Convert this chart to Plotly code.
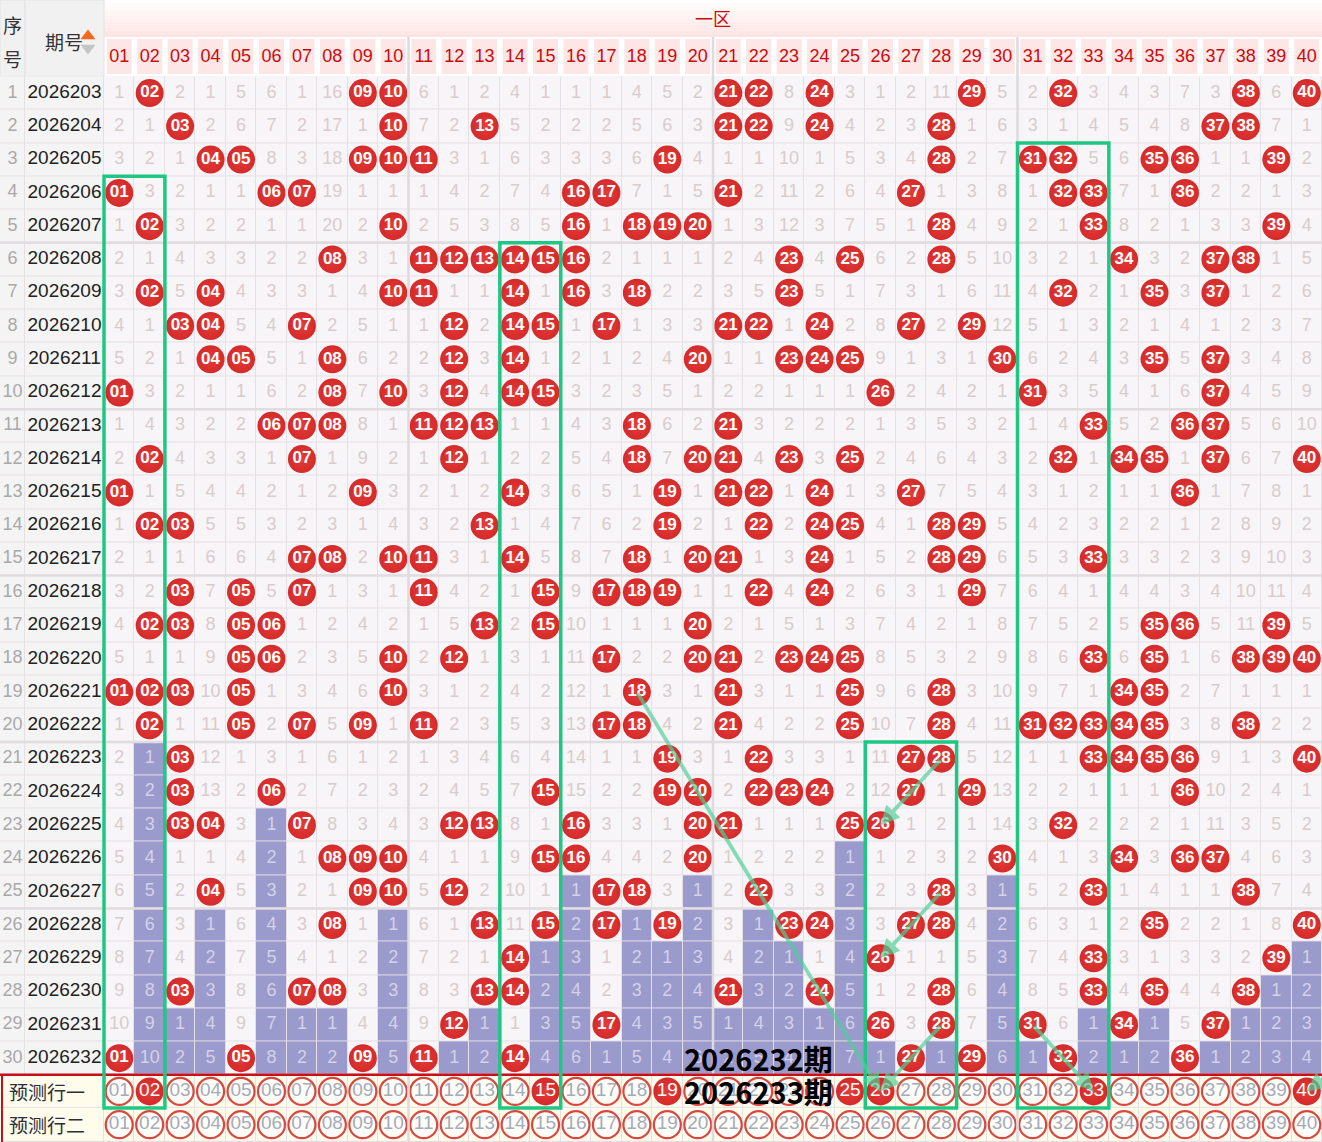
import plotly.graph_objects as go

# Draw data: one row per period, numbers drawn from 01-40 (一区).
periods = ["2026203", "2026204", "2026205", "2026206", "2026207", "2026208",
           "2026209", "2026210", "2026211", "2026212", "2026213", "2026214",
           "2026215", "2026216", "2026217", "2026218", "2026219", "2026220",
           "2026221", "2026222", "2026223", "2026224", "2026225", "2026226",
           "2026227", "2026228", "2026229", "2026230", "2026231", "2026232"]

draws = [
    [2, 9, 10, 21, 22, 24, 29, 32, 38, 40],
    [3, 10, 13, 21, 22, 24, 28, 37, 38],
    [4, 5, 9, 10, 11, 19, 28, 31, 32, 35, 36, 39],
    [1, 6, 7, 16, 17, 21, 27, 32, 33, 36],
    [2, 10, 16, 18, 19, 20, 28, 33, 39],
    [8, 11, 12, 13, 14, 15, 16, 23, 25, 28, 34, 37, 38],
    [2, 4, 10, 11, 14, 16, 18, 23, 32, 35, 37],
    [3, 4, 7, 12, 14, 15, 17, 21, 22, 24, 27, 29],
    [4, 5, 8, 12, 14, 20, 23, 24, 25, 30, 35, 37],
    [1, 8, 10, 12, 14, 15, 26, 31, 37],
    [6, 7, 8, 11, 12, 13, 18, 21, 33, 36, 37],
    [2, 7, 12, 18, 20, 21, 23, 25, 32, 34, 35, 37, 40],
    [1, 9, 14, 19, 21, 22, 24, 27, 36],
    [2, 3, 13, 19, 22, 24, 25, 28, 29],
    [7, 8, 10, 11, 14, 18, 20, 21, 24, 28, 29, 33],
    [3, 5, 7, 11, 15, 17, 18, 19, 22, 24, 29],
    [2, 3, 5, 6, 13, 15, 20, 35, 36, 39],
    [5, 6, 10, 12, 17, 20, 21, 23, 24, 25, 33, 35, 38, 39, 40],
    [1, 2, 3, 5, 10, 18, 21, 25, 28, 34, 35],
    [2, 5, 7, 9, 11, 17, 18, 21, 25, 28, 31, 32, 33, 34, 35, 38],
    [3, 19, 22, 27, 28, 33, 34, 35, 36, 40],
    [3, 6, 15, 19, 20, 22, 23, 24, 27, 29, 36],
    [3, 4, 7, 12, 13, 16, 20, 21, 25, 26, 32],
    [8, 9, 10, 15, 16, 20, 30, 34, 36, 37],
    [4, 9, 10, 12, 17, 18, 22, 28, 33, 38],
    [8, 13, 15, 17, 19, 23, 24, 27, 28, 35, 40],
    [14, 26, 33, 39],
    [3, 7, 8, 13, 14, 21, 24, 28, 33, 35, 38],
    [12, 17, 26, 28, 31, 34, 37],
    [1, 5, 9, 11, 14, 27, 29, 32, 36],
]

# Omission values shown in the first row (0 = drawn).
first_row_omission = [1, 0, 2, 1, 5, 6, 1, 16, 0, 0, 6, 1, 2, 4, 1, 1, 1, 4, 5, 2,
                      0, 0, 8, 0, 3, 1, 2, 11, 0, 5, 2, 0, 3, 4, 3, 7, 3, 0, 6, 0]

predict_one = [2, 15, 19, 25, 26, 33, 40]
predict_two = []
pred_labels = ["预测行一", "预测行二"]

# Green frames: (first column, last column, first row) down to 预测行一.
boxes = [(1, 2, 4), (14, 15, 6), (26, 28, 21), (31, 33, 3)]
# Green arrows: (from column, from row, to column, to row).
links = [(18, 19, 26, 31), (28, 21, 26, 23), (28, 25, 26, 27),
         (28, 29, 26, 31), (31, 29, 33, 31), (41, 30.3, 40, 31)]
stamps = [("2026232期", 30), ("2026233期", 31)]

N = 40
ROWS = len(periods)
numbers = list(range(1, N + 1))

# Build the omission table.
omit = []
for i, hits in enumerate(draws):
    if i == 0:
        omit.append(list(first_row_omission))
    else:
        omit.append([0 if n in hits else omit[-1][n - 1] + 1 for n in numbers])

last_hit = {n: max([i for i, h in enumerate(draws) if n in h], default=-1)
            for n in numbers}

# Page geometry (pixels -> axis units).
COL_W, ROW_H, GRID_X, GRID_Y = 30.45, 33.28, 104, 76.4


def px_x(p):
    return 0.5 + (p - GRID_X) / COL_W


def px_y(p):
    return 0.5 + (p - GRID_Y) / ROW_H


X0, X1 = px_x(0), px_x(1322)
Y0, Y1 = px_y(0), px_y(1142)
XS = px_x(25)

CELL = "#f7f5f7"
LINE = "#e4e0e4"
PURPLE = "#9a9acc"
RED = "#d42a2a"
CREAM = "#fffcec"
FONT = "Liberation Sans, Arial, sans-serif"
CJK = "Noto Sans CJK SC, sans-serif"

fig = go.Figure()

# Cell backgrounds.
zgrid = [[1 if i > last_hit[n] else 0 for n in numbers] for i in range(ROWS)]
fig.add_trace(go.Heatmap(
    x=numbers, y=list(range(1, ROWS + 1)), z=zgrid, zmin=0, zmax=1,
    colorscale=[[0, CELL], [1, PURPLE]], showscale=False, xgap=1, ygap=1,
    hoverinfo="skip"))
fig.add_trace(go.Heatmap(
    x=[X0, XS, 0.5], y=[r + 0.5 for r in range(ROWS + 1)],
    z=[[0, 0] for _ in range(ROWS)], zmin=0, zmax=1,
    colorscale=[[0, "#f5f4f5"], [1, "#f5f4f5"]], showscale=False,
    xgap=1, ygap=1, hoverinfo="skip"))
fig.add_trace(go.Heatmap(
    x=numbers, y=[ROWS + 1, ROWS + 2], z=[[0] * N, [0] * N], zmin=0, zmax=1,
    colorscale=[[0, CREAM], [1, CREAM]], showscale=False, xgap=1, ygap=1,
    hoverinfo="skip"))
fig.add_trace(go.Heatmap(
    x=[X0, 0.5], y=[ROWS + 0.5, ROWS + 1.5, ROWS + 2.5], z=[[0], [0]],
    zmin=0, zmax=1, colorscale=[[0, CREAM], [1, CREAM]], showscale=False,
    xgap=1, ygap=1, hoverinfo="skip"))

# Omission numbers (plain and purple cells).
for purple, color in ((False, "#d9cccc"), (True, "#d4d2e6")):
    xs, ys, ts = [], [], []
    for i in range(ROWS):
        for n in numbers:
            if omit[i][n - 1] > 0 and (i > last_hit[n]) == purple:
                xs.append(n)
                ys.append(i + 1)
                ts.append(str(omit[i][n - 1]))
    fig.add_trace(go.Scatter(
        x=xs, y=ys, text=ts, mode="text", hoverinfo="skip",
        textfont=dict(family=FONT, size=18, color=color)))

# Drawn balls.
bx = [n for i, h in enumerate(draws) for n in h]
by = [i + 1 for i, h in enumerate(draws) for n in h]
fig.add_trace(go.Scatter(
    x=bx, y=by, text=[f"{n:02d}" for n in bx], mode="markers+text",
    hoverinfo="skip",
    marker=dict(size=28, color=RED, line=dict(width=0),
                gradient=dict(type="radial", color="#e43c38")),
    textfont=dict(family=FONT, size=17, color="white", weight="bold")))

# Prediction rows.
for r, picks in enumerate([predict_one, predict_two]):
    yrow = ROWS + 1 + r
    open_n = [n for n in numbers if n not in picks]
    fig.add_trace(go.Scatter(
        x=open_n, y=[yrow] * len(open_n), text=[f"{n:02d}" for n in open_n],
        mode="markers+text", hoverinfo="skip",
        marker=dict(size=27, color="#fffdf8",
                    line=dict(width=2.2, color="#d9483f")),
        textfont=dict(family=FONT, size=19, color="#a4abba")))
    if picks:
        fig.add_trace(go.Scatter(
            x=picks, y=[yrow] * len(picks), text=[f"{n:02d}" for n in picks],
            mode="markers+text", hoverinfo="skip",
            marker=dict(size=28, color=RED, line=dict(width=0),
                        gradient=dict(type="radial", color="#e43c38")),
            textfont=dict(family=FONT, size=19, color="white")))

# Left columns: serial and period numbers.
fig.add_trace(go.Scatter(
    x=[(X0 + XS) / 2] * ROWS, y=list(range(1, ROWS + 1)),
    text=[str(i + 1) for i in range(ROWS)], mode="text", hoverinfo="skip",
    textfont=dict(family=FONT, size=18, color="#a9a9a9")))
fig.add_trace(go.Scatter(
    x=[(XS + 0.5) / 2] * ROWS, y=list(range(1, ROWS + 1)), text=periods,
    mode="text", hoverinfo="skip",
    textfont=dict(family=FONT, size=19, color="#222222")))

# Column header numbers.
fig.add_trace(go.Scatter(
    x=numbers, y=[px_y(57)] * N, text=[f"{n:02d}" for n in numbers],
    mode="text", hoverinfo="skip",
    textfont=dict(family=FONT, size=18, color="#cc0a0a")))

shapes = []
# Header backgrounds.
shapes.append(dict(type="rect", x0=0.5, x1=X1, y0=Y0, y1=0.5,
                   fillcolor="white", line_width=0, layer="below"))
steps = 12
for k in range(steps):
    t = k / (steps - 1)
    b = int(255 - t * (255 - 0xe4))
    shapes.append(dict(
        type="rect", x0=0.5, x1=X1,
        y0=Y0 + (px_y(37) - Y0) * k / steps,
        y1=Y0 + (px_y(37) - Y0) * (k + 1) / steps,
        fillcolor=f"rgb(255,{b},{b})", line_width=0, layer="below"))
for n in numbers:
    shapes.append(dict(type="rect", x0=n - 0.41, x1=n + 0.41,
                       y0=px_y(39), y1=px_y(74), fillcolor="#fce6e6",
                       line_width=0, layer="below"))
for xa, xb in ((X0, XS), (XS, 0.5)):
    shapes.append(dict(type="rect", x0=xa, x1=xb, y0=Y0, y1=0.5,
                       fillcolor="#f1f1f1", line=dict(color="#e2e2e2", width=1),
                       layer="below"))

# Thicker separators every 10 columns and 5 rows.
for xv in (10.5, 20.5, 30.5):
    shapes.append(dict(type="line", x0=xv, x1=xv, y0=px_y(37), y1=Y1,
                       line=dict(color="#dedade", width=2.5), layer="above"))
for yv in (5.5, 10.5, 15.5, 20.5, 25.5):
    shapes.append(dict(type="line", x0=X0, x1=X1, y0=yv, y1=yv,
                       line=dict(color="#e0dce0", width=2.5), layer="above"))

# Red rule above prediction rows.
shapes.append(dict(type="line", x0=X0, x1=X1, y0=ROWS + 0.5, y1=ROWS + 0.5,
                   line=dict(color="#c8101a", width=2.5), layer="above"))
shapes.append(dict(type="line", x0=px_x(2), x1=px_x(2), y0=ROWS + 0.5, y1=Y1,
                   line=dict(color="#c8101a", width=2), layer="above"))

# Green frames.
for c0, c1, r0 in boxes:
    shapes.append(dict(type="rect", x0=c0 - 0.5, x1=c1 + 0.5,
                       y0=r0 - 0.5, y1=ROWS + 1.5,
                       line=dict(color="#1fc784", width=3.5), layer="above"))

annotations = []
for c0, r0, c1, r1 in links:
    annotations.append(dict(
        x=c1, y=r1, ax=c0, ay=r0, xref="x", yref="y", axref="x", ayref="y",
        text="", showarrow=True, arrowhead=2, arrowsize=1, arrowwidth=3.8,
        arrowcolor="rgba(78,208,152,0.68)", standoff=0))

for label, r in stamps:
    annotations.append(dict(
        x=22, y=r, xref="x", yref="y", text=f"<b>{label}</b>",
        showarrow=False, font=dict(family=CJK, size=29, color="#000000")))

annotations.append(dict(x=20.5, y=px_y(18), xref="x", yref="y", text="一区",
                        showarrow=False,
                        font=dict(family=CJK, size=18, color="#cc0a0a")))
annotations.append(dict(x=(X0 + XS) / 2, y=px_y(24), xref="x", yref="y",
                        text="序", showarrow=False,
                        font=dict(family=CJK, size=19, color="#333333")))
annotations.append(dict(x=(X0 + XS) / 2, y=px_y(58), xref="x", yref="y",
                        text="号", showarrow=False,
                        font=dict(family=CJK, size=19, color="#333333")))
annotations.append(dict(x=px_x(64), y=px_y(41), xref="x", yref="y",
                        text="期号", showarrow=False,
                        font=dict(family=CJK, size=19, color="#333333")))
for r, label in enumerate(pred_labels):
    annotations.append(dict(x=px_x(7), y=ROWS + 1 + r, xref="x", yref="y",
                            text=label, showarrow=False, xanchor="left",
                            font=dict(family=CJK, size=19, color="#2b2f3a")))

# Sort icon next to 期号: orange up arrow over a grey down arrow.
fig.add_trace(go.Scatter(
    x=[px_x(88), px_x(88)], y=[px_y(36), px_y(48)], mode="markers",
    hoverinfo="skip",
    marker=dict(symbol=["triangle-up", "triangle-down"], size=13,
                color=["#f26a1b", "#c4c4c4"], line=dict(width=0))))

fig.update_layout(
    width=1322, height=1142, margin=dict(l=0, r=0, t=0, b=0, pad=0),
    paper_bgcolor="white", plot_bgcolor=LINE, showlegend=False,
    xaxis=dict(range=[X0, X1], visible=False, fixedrange=True),
    yaxis=dict(range=[Y1, Y0], visible=False, fixedrange=True),
    shapes=shapes, annotations=annotations)

fig.write_html("out.html", config={"displayModeBar": False},
               post_script="document.body.style.margin='0';"
                           "document.body.style.overflow='hidden';")
